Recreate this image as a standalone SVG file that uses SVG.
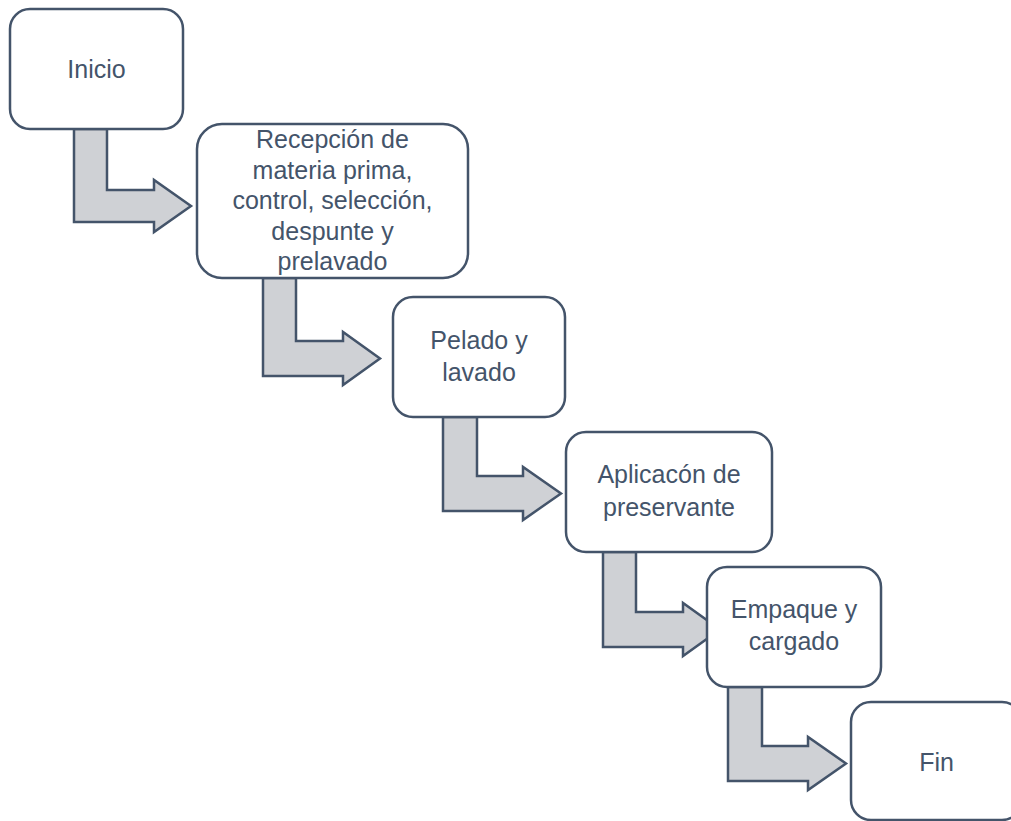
<svg xmlns="http://www.w3.org/2000/svg" width="1011" height="821" viewBox="0 0 1011 821">
<style>
.box{fill:#ffffff;stroke:#44546a;stroke-width:2.5}
.arr{fill:#cfd1d5;stroke:#44546a;stroke-width:2.5;stroke-linejoin:miter}
text{font-family:"Liberation Sans",Arial,sans-serif;font-size:25px;fill:#44546a;text-anchor:middle}
</style>
<rect width="1011" height="821" fill="#ffffff"/>
<g id="connectors">
<polygon class="arr" points="74,129 107,129 107,190 154,190 154,180 191,206 154,232 154,222 74,222"/>
<polygon class="arr" points="263,278 296,278 296,341 343,341 343,332 380,358.5 343,385 343,376 263,376"/>
<polygon class="arr" points="443,417 477,417 477,476 523,476 523,467 561,493.5 523,520 523,511 443,511"/>
<polygon class="arr" points="603,552 636,552 636,612 683,612 683,603 720,629.5 683,656 683,647 603,647"/>
<polygon class="arr" points="728,687 762,687 762,746 808,746 808,737 846,763.5 808,790 808,781 728,781"/>
</g>
<g id="inicio">
<rect class="box" x="10" y="9" width="173" height="120" rx="20"/>
<text x="96.5" y="78">Inicio</text>
</g>
<g id="recepcion">
<rect class="box" x="197" y="124" width="271" height="154" rx="25"/>
<text x="332.5" y="148">Recepción de</text>
<text x="332.5" y="178.5">materia prima,</text>
<text x="332.5" y="209">control, selección,</text>
<text x="332.5" y="239.5">despunte y</text>
<text x="332.5" y="270">prelavado</text>
</g>
<g id="pelado">
<rect class="box" x="393" y="297" width="172" height="120" rx="20"/>
<text x="479" y="349">Pelado y</text>
<text x="479" y="381">lavado</text>
</g>
<g id="aplicacion">
<rect class="box" x="566" y="432" width="206" height="120" rx="20"/>
<text x="669" y="483">Aplicacón de</text>
<text x="669" y="515.5">preservante</text>
</g>
<g id="empaque">
<rect class="box" x="707" y="567" width="174" height="120" rx="20"/>
<text x="794" y="618">Empaque y</text>
<text x="794" y="650">cargado</text>
</g>
<g id="fin">
<rect class="box" x="851" y="702" width="171" height="118" rx="20"/>
<text x="936.5" y="770.5">Fin</text>
</g>
</svg>
